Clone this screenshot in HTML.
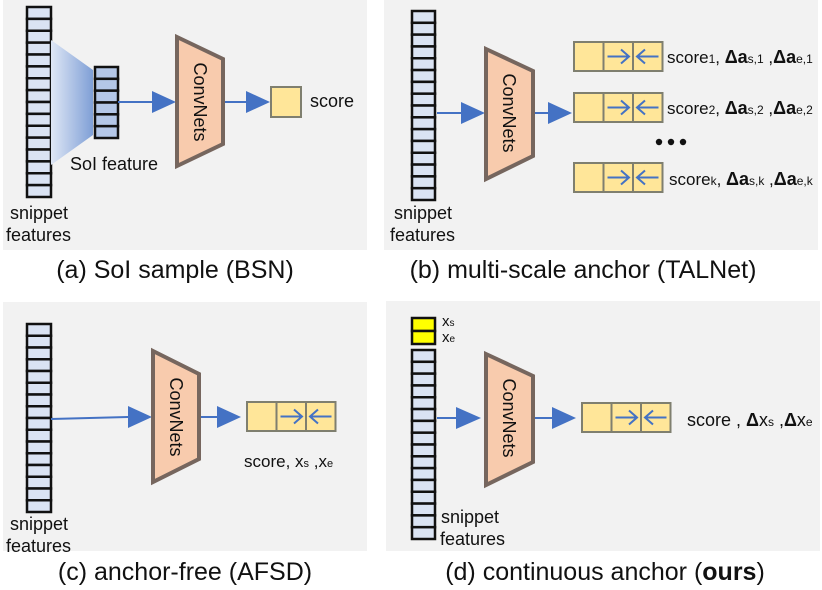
<!DOCTYPE html>
<html><head><meta charset="utf-8"><style>
html,body{margin:0;padding:0;background:#fff}
svg{display:block}
text{font-family:"Liberation Sans","DejaVu Sans",sans-serif;fill:#111}
</style></head><body>
<svg id="s" width="822" height="590" viewBox="0 0 822 590" xmlns="http://www.w3.org/2000/svg">
<defs>
<linearGradient id="g" x1="0" x2="1" y1="0" y2="0"><stop offset="0" stop-color="#dfe7f5"/><stop offset="1" stop-color="#7f9fd6"/></linearGradient>
</defs>
<rect x="3" y="0" width="364" height="250" fill="#f2f2f2"/>
<rect x="384" y="0" width="434" height="250" fill="#f2f2f2"/>
<rect x="3" y="302" width="364" height="249" fill="#f2f2f2"/>
<rect x="386" y="301" width="434" height="250" fill="#f2f2f2"/>
<g id="strips"></g>

<!-- panel a -->
<polygon points="51,40 93,70 93,135 51,165" fill="url(#g)"/>
<line x1="118" y1="102" x2="152" y2="102" stroke="#4472c4" stroke-width="2"/><polygon points="152,91 176,102 152,113" fill="#4472c4"/>
<polygon points="177,37 223,59 223,144 177,166" fill="#f8cbad" stroke="#76665e" stroke-width="4"/>
<text font-size="18" transform="translate(194,102) rotate(90)" text-anchor="middle">ConvNets</text>
<line x1="225" y1="102" x2="247" y2="102" stroke="#4472c4" stroke-width="2"/><polygon points="246,91 270,102 246,113" fill="#4472c4"/>
<rect x="271" y="87" width="30" height="30" fill="#ffe699" stroke="#7f7f6f" stroke-width="2"/>
<text x="310" y="107" font-size="18">score</text>
<text x="70" y="170" font-size="18">SoI feature</text>
<text x="10" y="219" font-size="18">snippet</text><text x="6" y="241" font-size="18">features</text>
<text x="175" y="278" font-size="25" text-anchor="middle">(a) SoI sample (BSN)</text>

<!-- panel b -->
<line x1="437" y1="113" x2="462" y2="113" stroke="#4472c4" stroke-width="2"/><polygon points="461,102 485,113 461,124" fill="#4472c4"/>
<polygon points="486,49 533,71 533,156 486,179" fill="#f8cbad" stroke="#76665e" stroke-width="4"/>
<text font-size="18" transform="translate(503,113) rotate(90)" text-anchor="middle">ConvNets</text>
<line x1="535" y1="113" x2="549" y2="113" stroke="#4472c4" stroke-width="2"/><polygon points="548,102 572,113 548,124" fill="#4472c4"/>
<g id="boxes"></g>
<text x="667" y="63" font-size="17">score<tspan font-size="12">1</tspan>, <tspan font-weight="bold" font-size="18">Δa</tspan><tspan font-size="12">s,1</tspan> ,<tspan font-weight="bold" font-size="18">Δa</tspan><tspan font-size="12">e,1</tspan></text>
<text x="667" y="114" font-size="17">score<tspan font-size="12">2</tspan>, <tspan font-weight="bold" font-size="18">Δa</tspan><tspan font-size="12">s,2</tspan> ,<tspan font-weight="bold" font-size="18">Δa</tspan><tspan font-size="12">e,2</tspan></text>
<text x="669" y="185" font-size="17">score<tspan font-size="12">k</tspan>, <tspan font-weight="bold" font-size="18">Δa</tspan><tspan font-size="12">s,k</tspan> ,<tspan font-weight="bold" font-size="18">Δa</tspan><tspan font-size="12">e,k</tspan></text>
<circle cx="659" cy="142" r="3.2" fill="#111"/><circle cx="671" cy="142" r="3.2" fill="#111"/><circle cx="683" cy="142" r="3.2" fill="#111"/>
<text x="394" y="219" font-size="18">snippet</text><text x="390" y="241" font-size="18">features</text>
<text x="583" y="278" font-size="25" text-anchor="middle">(b) multi-scale anchor (TALNet)</text>

<!-- panel c -->
<line x1="51" y1="419" x2="129" y2="417" stroke="#4472c4" stroke-width="2"/><polygon points="128,406 152,417 128,428" fill="#4472c4"/>
<polygon points="153,351 199,374 199,459 153,482" fill="#f8cbad" stroke="#76665e" stroke-width="4"/>
<text font-size="18" transform="translate(170,417) rotate(90)" text-anchor="middle">ConvNets</text>
<line x1="201" y1="417" x2="218" y2="417" stroke="#4472c4" stroke-width="2"/><polygon points="217,406 241,417 217,428" fill="#4472c4"/>
<text x="244" y="467" font-size="17">score, x<tspan font-size="11">s</tspan> ,x<tspan font-size="11">e</tspan></text>
<text x="10" y="530" font-size="18">snippet</text><text x="6" y="552" font-size="18">features</text>
<text x="185" y="580" font-size="25" text-anchor="middle">(c) anchor-free (AFSD)</text>

<!-- panel d -->
<rect x="412" y="318" width="23" height="13" fill="#ffff00" stroke="#111" stroke-width="2.5"/>
<rect x="412" y="331" width="23" height="13" fill="#ffff00" stroke="#111" stroke-width="2.5"/>
<text x="442" y="326" font-size="15">x<tspan font-size="10">s</tspan></text>
<text x="442" y="342" font-size="15">x<tspan font-size="10">e</tspan></text>
<line x1="437" y1="418" x2="457" y2="418" stroke="#4472c4" stroke-width="2"/><polygon points="456,407 481,418 456,429" fill="#4472c4"/>
<polygon points="486,354 533,376 533,462 486,485" fill="#f8cbad" stroke="#76665e" stroke-width="4"/>
<text font-size="18" transform="translate(503,418) rotate(90)" text-anchor="middle">ConvNets</text>
<line x1="535" y1="418" x2="553" y2="418" stroke="#4472c4" stroke-width="2"/><polygon points="552,407 576,418 552,429" fill="#4472c4"/>
<text x="687" y="426" font-size="18">score , <tspan font-weight="bold">Δ</tspan>x<tspan font-size="12">s</tspan> ,<tspan font-weight="bold">Δ</tspan>x<tspan font-size="12">e</tspan></text>
<text x="441" y="523" font-size="18">snippet</text><text x="440" y="545" font-size="18">features</text>
<text x="605" y="580" font-size="25" text-anchor="middle">(d) continuous anchor (<tspan font-weight="bold">ours</tspan>)</text>
</svg>
<script>
var NS="http://www.w3.org/2000/svg";
function el(p,t,a){var e=document.createElementNS(NS,t);for(var k in a)e.setAttribute(k,a[k]);p.appendChild(e);return e;}
var S=document.getElementById('strips');
function strip(x,y,w,h,n,fill){var c=h/n;for(var i=0;i<n;i++)el(S,'rect',{x:x,y:y+i*c,width:w,height:c,fill:fill,stroke:'#111','stroke-width':2.5});}
strip(27,7,24,190,16,'#dae3f3');
strip(95,67,23,71,6,'#b4c7e7');
strip(412,11,23,189,16,'#dae3f3');
strip(27,324,24,188,16,'#dae3f3');
strip(412,350,23,189,16,'#dae3f3');
var B=document.getElementById('boxes');
function box(x,y){var w=29.5,h=29;for(var i=0;i<3;i++)el(B,'rect',{x:x+i*w,y:y,width:w,height:h,fill:'#ffe699',stroke:'#7f7f6f','stroke-width':2});
 var cy=y+h/2;
 el(B,'line',{x1:x+w+4,y1:cy,x2:x+2*w-4,y2:cy,stroke:'#4472c4','stroke-width':2});
 el(B,'polyline',{points:(x+2*w-12)+','+(cy-7)+' '+(x+2*w-4)+','+cy+' '+(x+2*w-12)+','+(cy+7),fill:'none',stroke:'#4472c4','stroke-width':2});
 el(B,'line',{x1:x+2*w+4,y1:cy,x2:x+3*w-4,y2:cy,stroke:'#4472c4','stroke-width':2});
 el(B,'polyline',{points:(x+2*w+12)+','+(cy-7)+' '+(x+2*w+4)+','+cy+' '+(x+2*w+12)+','+(cy+7),fill:'none',stroke:'#4472c4','stroke-width':2});
}
box(574,42);box(574,93);box(574,163);box(247,402);box(582,403);
</script>
</body></html>
